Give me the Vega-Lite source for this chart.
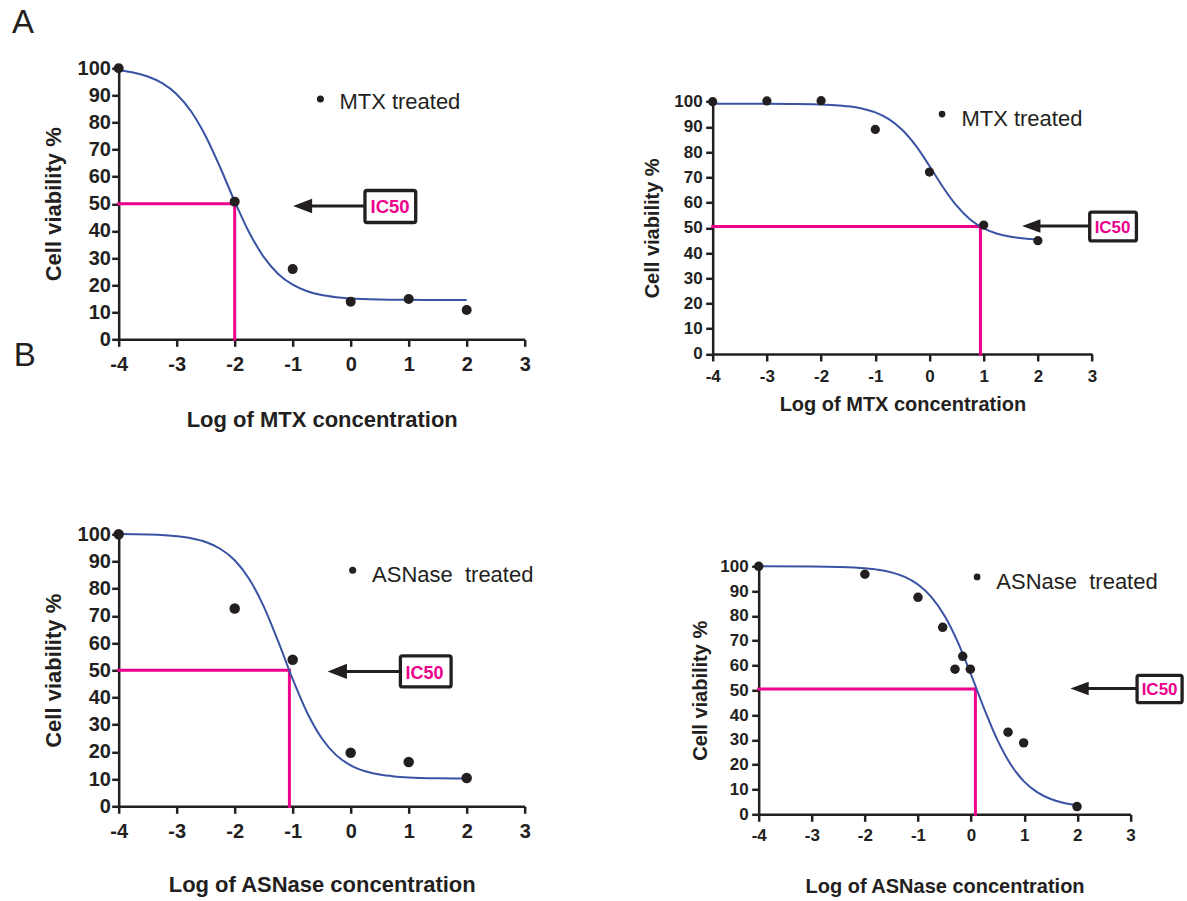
{
  "$schema": "https://vega.github.io/schema/vega-lite/v6.json",
  "padding": {"left": 11.7, "top": 7.3, "right": 0, "bottom": 0},
  "background": "white",
  "config": {
    "view": {"stroke": null},
    "font": "Liberation Sans",
    "axis": {
      "grid": false,
      "domainColor": "#231f20",
      "domainWidth": 2.5,
      "tickColor": "#231f20",
      "tickWidth": 2.5,
      "tickSize": 7,
      "labelFont": "Liberation Sans",
      "labelFontWeight": "bold",
      "labelColor": "#231f20",
      "labelFlush": false,
      "labelOverlap": false,
      "titleFont": "Liberation Sans",
      "titleFontWeight": "bold",
      "titleColor": "#231f20"
    }
  },
  "datasets": {
    "a1pts": [{"x": -4, "y": 100}, {"x": -2, "y": 50.8}, {"x": -1, "y": 25.9}, {"x": 0, "y": 13.9}, {"x": 1, "y": 14.9}, {"x": 2, "y": 10.8}],
    "a1fit": [{"x": -4, "y": 99.25}, {"x": -3.75, "y": 98.43}, {"x": -3.5, "y": 96.99}, {"x": -3.25, "y": 94.53}, {"x": -3, "y": 90.45}, {"x": -2.75, "y": 84.07}, {"x": -2.5, "y": 74.93}, {"x": -2.25, "y": 63.39}, {"x": -2, "y": 50.89}, {"x": -1.75, "y": 39.42}, {"x": -1.5, "y": 30.4}, {"x": -1.25, "y": 24.13}, {"x": -1, "y": 20.14}, {"x": -0.75, "y": 17.73}, {"x": -0.5, "y": 16.32}, {"x": -0.25, "y": 15.52}, {"x": 0, "y": 15.07}, {"x": 0.5, "y": 14.68}, {"x": 1, "y": 14.56}, {"x": 1.5, "y": 14.52}, {"x": 2, "y": 14.51}],
    "a2pts": [{"x": -4, "y": 100}, {"x": -3, "y": 100.3}, {"x": -2, "y": 100.4}, {"x": -1, "y": 89.0}, {"x": 0, "y": 72.1}, {"x": 1, "y": 51.1}, {"x": 2, "y": 44.9}],
    "a2fit": [{"x": -4, "y": 99.2}, {"x": -3.5, "y": 99.19}, {"x": -3, "y": 99.18}, {"x": -2.5, "y": 99.11}, {"x": -2, "y": 98.9}, {"x": -1.75, "y": 98.64}, {"x": -1.5, "y": 98.17}, {"x": -1.25, "y": 97.3}, {"x": -1, "y": 95.75}, {"x": -0.75, "y": 93.08}, {"x": -0.5, "y": 88.75}, {"x": -0.25, "y": 82.46}, {"x": 0, "y": 74.51}, {"x": 0.25, "y": 66.11}, {"x": 0.5, "y": 58.77}, {"x": 0.75, "y": 53.34}, {"x": 1, "y": 49.8}, {"x": 1.25, "y": 47.67}, {"x": 1.5, "y": 46.46}, {"x": 1.75, "y": 45.79}, {"x": 2, "y": 45.42}],
    "b1pts": [{"x": -4, "y": 100}, {"x": -2, "y": 72.7}, {"x": -1, "y": 53.9}, {"x": 0, "y": 19.7}, {"x": 1, "y": 16.3}, {"x": 2, "y": 10.4}],
    "b1fit": [{"x": -4, "y": 100.12}, {"x": -3.5, "y": 99.94}, {"x": -3, "y": 99.3}, {"x": -2.75, "y": 98.54}, {"x": -2.5, "y": 97.15}, {"x": -2.25, "y": 94.68}, {"x": -2, "y": 90.45}, {"x": -1.75, "y": 83.58}, {"x": -1.5, "y": 73.51}, {"x": -1.25, "y": 60.61}, {"x": -1, "y": 46.75}, {"x": -0.75, "y": 34.37}, {"x": -0.5, "y": 25.03}, {"x": -0.25, "y": 18.82}, {"x": 0, "y": 15.04}, {"x": 0.25, "y": 12.87}, {"x": 0.5, "y": 11.65}, {"x": 0.75, "y": 10.99}, {"x": 1, "y": 10.62}, {"x": 1.5, "y": 10.32}, {"x": 2, "y": 10.24}],
    "b2pts": [{"x": -4, "y": 100}, {"x": -2, "y": 96.8}, {"x": -1, "y": 87.5}, {"x": -0.535, "y": 75.4}, {"x": -0.303, "y": 58.5}, {"x": -0.158, "y": 63.7}, {"x": -0.014, "y": 58.5}, {"x": 0.696, "y": 33.1}, {"x": 0.99, "y": 28.8}, {"x": 1.995, "y": 3.1}],
    "b2fit": [{"x": -4, "y": 99.99}, {"x": -3, "y": 99.92}, {"x": -2.5, "y": 99.75}, {"x": -2, "y": 99.21}, {"x": -1.75, "y": 98.61}, {"x": -1.5, "y": 97.56}, {"x": -1.25, "y": 95.74}, {"x": -1, "y": 92.67}, {"x": -0.75, "y": 87.69}, {"x": -0.5, "y": 80.07}, {"x": -0.25, "y": 69.42}, {"x": 0, "y": 56.29}, {"x": 0.25, "y": 42.38}, {"x": 0.5, "y": 29.81}, {"x": 0.75, "y": 20.0}, {"x": 1, "y": 13.18}, {"x": 1.25, "y": 8.81}, {"x": 1.5, "y": 6.15}, {"x": 1.75, "y": 4.59}, {"x": 2, "y": 3.69}]
  },
  "spacing": 93,
  "vconcat": [
    {
      "spacing": 112,
      "hconcat": [
        {
          "width": 406,
          "height": 271,
          "layer": [
            {"data": {"values": [{}]}, "mark": {"type": "rule", "color": "#ec008c", "strokeWidth": 3, "strokeCap": "square"},
             "encoding": {
               "x": {"datum": -4, "type": "quantitative", "scale": {"domain": [-4, 3], "nice": false, "zero": false},
                     "axis": {"title": "Log of MTX concentration", "values": [-4, -3, -2, -1, 0, 1, 2, 3], "labelOverlap": false, "labelExpr": "'' + datum.value", "labelFontSize": 20, "labelPadding": 8.3, "titleFontSize": 22, "titlePadding": 35}},
               "x2": {"datum": -2},
               "y": {"datum": 50, "type": "quantitative", "scale": {"domain": [0, 100], "nice": false, "zero": false},
                     "axis": {"title": "Cell viability %", "values": [0, 10, 20, 30, 40, 50, 60, 70, 80, 90, 100], "tickCount": 11, "labelOverlap": false, "labelFontSize": 20, "labelPadding": 1.3, "titleFontSize": 22, "titlePadding": 11.7}}
             }},
            {"data": {"values": [{}]}, "mark": {"type": "rule", "color": "#ec008c", "strokeWidth": 3, "strokeCap": "square"},
             "encoding": {"x": {"datum": -2, "type": "quantitative"}, "y": {"datum": 0, "type": "quantitative"}, "y2": {"datum": 50}}},
            {"data": {"name": "a1fit"}, "mark": {"type": "line", "color": "#3953a4", "strokeWidth": 2, "interpolate": "monotone"},
             "encoding": {
               "x": {"field": "x", "type": "quantitative", "scale": {"domain": [-4, 3], "nice": false, "zero": false},
                     "axis": {"title": "Log of MTX concentration", "values": [-4, -3, -2, -1, 0, 1, 2, 3], "labelOverlap": false, "labelExpr": "'' + datum.value", "labelFontSize": 20, "labelPadding": 8.3, "titleFontSize": 22, "titlePadding": 35}},
               "y": {"field": "y", "type": "quantitative", "scale": {"domain": [0, 100], "nice": false, "zero": false},
                     "axis": {"title": "Cell viability %", "values": [0, 10, 20, 30, 40, 50, 60, 70, 80, 90, 100], "tickCount": 11, "labelOverlap": false, "labelFontSize": 20, "labelPadding": 1.3, "titleFontSize": 22, "titlePadding": 11.7}}
             }},
            {"data": {"name": "a1pts"}, "mark": {"type": "circle", "size": 100, "color": "#231f20", "opacity": 1},
             "encoding": {"x": {"field": "x", "type": "quantitative"}, "y": {"field": "y", "type": "quantitative"}}},
            {"data": {"values": [{}]}, "mark": {"type": "circle", "size": 50, "color": "#231f20", "opacity": 1},
             "encoding": {"x": {"datum": -0.522, "type": "quantitative"}, "y": {"datum": 88.7, "type": "quantitative"}}},
            {"data": {"values": [{}]}, "mark": {"type": "text", "text": "MTX treated", "fontSize": 22, "color": "#231f20", "align": "left", "baseline": "alphabetic"},
             "encoding": {"x": {"datum": -0.195, "type": "quantitative"}, "y": {"datum": 84.9, "type": "quantitative"}}},
            {"data": {"values": [{}]}, "mark": {"type": "rule", "color": "#231f20", "strokeWidth": 3},
             "encoding": {"x": {"datum": -0.7, "type": "quantitative"}, "x2": {"datum": 0.25}, "y": {"datum": 49.2, "type": "quantitative"}}},
            {"data": {"values": [{}]}, "mark": {"type": "point", "shape": "M0,0L2,-0.76L2,0.76Z", "size": 361, "filled": true, "color": "#231f20", "opacity": 1, "strokeWidth": 0},
             "encoding": {"x": {"datum": -0.993, "type": "quantitative"}, "y": {"datum": 49.2, "type": "quantitative"}}},
            {"data": {"values": [{}]}, "mark": {"type": "rect", "fill": "white", "stroke": "#231f20", "strokeWidth": 3.3, "cornerRadius": 2},
             "encoding": {"x": {"datum": 0.246, "type": "quantitative"}, "x2": {"datum": 1.121}, "y": {"datum": 54.9, "type": "quantitative"}, "y2": {"datum": 43.1}}},
            {"data": {"values": [{}]}, "mark": {"type": "text", "text": "IC50", "fontSize": 18.5, "fontWeight": "bold", "color": "#ec008c", "align": "center", "baseline": "alphabetic"},
             "encoding": {"x": {"datum": 0.679, "type": "quantitative"}, "y": {"datum": 46.5, "type": "quantitative"}}},
            {"data": {"values": [{}]}, "mark": {"type": "text", "text": "A", "fontSize": 33, "color": "#231f20", "align": "left", "baseline": "alphabetic"},
             "encoding": {"x": {"datum": -5.838, "type": "quantitative"}, "y": {"datum": 112.9, "type": "quantitative"}}},
            {"data": {"values": [{}]}, "mark": {"type": "text", "text": "B", "fontSize": 33, "color": "#231f20", "align": "left", "baseline": "alphabetic"},
             "encoding": {"x": {"datum": -5.81, "type": "quantitative"}, "y": {"datum": -9.74, "type": "quantitative"}}}
          ]
        },
        {
          "width": 379.4,
          "height": 285.7,
          "layer": [
            {"data": {"values": [{}]}, "mark": {"type": "rule", "color": "#ec008c", "strokeWidth": 3, "strokeCap": "square"},
             "encoding": {
               "x": {"datum": -4, "type": "quantitative", "scale": {"domain": [-4, 3], "nice": false, "zero": false},
                     "axis": {"title": "Log of MTX concentration", "values": [-4, -3, -2, -1, 0, 1, 2, 3], "labelOverlap": false, "labelExpr": "'' + datum.value", "labelFontSize": 17, "labelPadding": 7.7, "titleFontSize": 20, "titlePadding": 9.5}},
               "x2": {"datum": 0.94},
               "y": {"datum": 50.5, "type": "quantitative", "scale": {"domain": [0, 100], "range": [285.7, 33.4], "nice": false, "zero": false},
                     "axis": {"title": "Cell viability %", "values": [0, 10, 20, 30, 40, 50, 60, 70, 80, 90, 100], "tickCount": 11, "labelOverlap": false, "labelFontSize": 17, "labelPadding": 3.5, "titleFontSize": 20, "titlePadding": 11}}
             }},
            {"data": {"values": [{}]}, "mark": {"type": "rule", "color": "#ec008c", "strokeWidth": 3, "strokeCap": "square"},
             "encoding": {"x": {"datum": 0.94, "type": "quantitative"}, "y": {"datum": 0, "type": "quantitative"}, "y2": {"datum": 50.5}}},
            {"data": {"name": "a2fit"}, "mark": {"type": "line", "color": "#3953a4", "strokeWidth": 2, "interpolate": "monotone"},
             "encoding": {
               "x": {"field": "x", "type": "quantitative", "scale": {"domain": [-4, 3], "nice": false, "zero": false},
                     "axis": {"title": "Log of MTX concentration", "values": [-4, -3, -2, -1, 0, 1, 2, 3], "labelOverlap": false, "labelExpr": "'' + datum.value", "labelFontSize": 17, "labelPadding": 7.7, "titleFontSize": 20, "titlePadding": 9.5}},
               "y": {"field": "y", "type": "quantitative", "scale": {"domain": [0, 100], "range": [285.7, 33.4], "nice": false, "zero": false},
                     "axis": {"title": "Cell viability %", "values": [0, 10, 20, 30, 40, 50, 60, 70, 80, 90, 100], "tickCount": 11, "labelOverlap": false, "labelFontSize": 17, "labelPadding": 3.5, "titleFontSize": 20, "titlePadding": 11}}
             }},
            {"data": {"name": "a2pts"}, "mark": {"type": "circle", "size": 85, "color": "#231f20", "opacity": 1},
             "encoding": {"x": {"field": "x", "type": "quantitative"}, "y": {"field": "y", "type": "quantitative"}}},
            {"data": {"values": [{}]}, "mark": {"type": "circle", "size": 45, "color": "#231f20", "opacity": 1},
             "encoding": {"x": {"datum": 0.232, "type": "quantitative"}, "y": {"datum": 95.1, "type": "quantitative"}}},
            {"data": {"values": [{}]}, "mark": {"type": "text", "text": "MTX treated", "fontSize": 22, "color": "#231f20", "align": "left", "baseline": "alphabetic"},
             "encoding": {"x": {"datum": 0.589, "type": "quantitative"}, "y": {"datum": 90.5, "type": "quantitative"}}},
            {"data": {"values": [{}]}, "mark": {"type": "rule", "color": "#231f20", "strokeWidth": 3},
             "encoding": {"x": {"datum": 1.99, "type": "quantitative"}, "x2": {"datum": 2.96}, "y": {"datum": 50.7, "type": "quantitative"}}},
            {"data": {"values": [{}]}, "mark": {"type": "point", "shape": "M0,0L2,-0.74L2,0.74Z", "size": 335, "filled": true, "color": "#231f20", "opacity": 1, "strokeWidth": 0},
             "encoding": {"x": {"datum": 1.709, "type": "quantitative"}, "y": {"datum": 50.7, "type": "quantitative"}}},
            {"data": {"values": [{}]}, "mark": {"type": "rect", "fill": "white", "stroke": "#231f20", "strokeWidth": 3.3, "cornerRadius": 2},
             "encoding": {"x": {"datum": 2.956, "type": "quantitative"}, "x2": {"datum": 3.818}, "y": {"datum": 56.2, "type": "quantitative"}, "y2": {"datum": 44.8}}},
            {"data": {"values": [{}]}, "mark": {"type": "text", "text": "IC50", "fontSize": 17, "fontWeight": "bold", "color": "#ec008c", "align": "center", "baseline": "alphabetic"},
             "encoding": {"x": {"datum": 3.378, "type": "quantitative"}, "y": {"datum": 48.1, "type": "quantitative"}}}
          ]
        }
      ]
    },
    {
      "spacing": 157,
      "hconcat": [
        {
          "width": 406,
          "height": 272,
          "layer": [
            {"data": {"values": [{}]}, "mark": {"type": "rule", "color": "#ec008c", "strokeWidth": 3, "strokeCap": "square"},
             "encoding": {
               "x": {"datum": -4, "type": "quantitative", "scale": {"domain": [-4, 3], "nice": false, "zero": false},
                     "axis": {"title": "Log of ASNase concentration", "values": [-4, -3, -2, -1, 0, 1, 2, 3], "labelOverlap": false, "labelExpr": "'' + datum.value", "labelFontSize": 20, "labelPadding": 8.3, "titleFontSize": 22, "titlePadding": 33}},
               "x2": {"datum": -1.057},
               "y": {"datum": 50, "type": "quantitative", "scale": {"domain": [0, 100], "nice": false, "zero": false},
                     "axis": {"title": "Cell viability %", "values": [0, 10, 20, 30, 40, 50, 60, 70, 80, 90, 100], "tickCount": 11, "labelOverlap": false, "labelFontSize": 20, "labelPadding": 1.3, "titleFontSize": 22, "titlePadding": 11.7}}
             }},
            {"data": {"values": [{}]}, "mark": {"type": "rule", "color": "#ec008c", "strokeWidth": 3, "strokeCap": "square"},
             "encoding": {"x": {"datum": -1.057, "type": "quantitative"}, "y": {"datum": 0, "type": "quantitative"}, "y2": {"datum": 50}}},
            {"data": {"name": "b1fit"}, "mark": {"type": "line", "color": "#3953a4", "strokeWidth": 2, "interpolate": "monotone"},
             "encoding": {
               "x": {"field": "x", "type": "quantitative", "scale": {"domain": [-4, 3], "nice": false, "zero": false},
                     "axis": {"title": "Log of ASNase concentration", "values": [-4, -3, -2, -1, 0, 1, 2, 3], "labelOverlap": false, "labelExpr": "'' + datum.value", "labelFontSize": 20, "labelPadding": 8.3, "titleFontSize": 22, "titlePadding": 33}},
               "y": {"field": "y", "type": "quantitative", "scale": {"domain": [0, 100], "nice": false, "zero": false},
                     "axis": {"title": "Cell viability %", "values": [0, 10, 20, 30, 40, 50, 60, 70, 80, 90, 100], "tickCount": 11, "labelOverlap": false, "labelFontSize": 20, "labelPadding": 1.3, "titleFontSize": 22, "titlePadding": 11.7}}
             }},
            {"data": {"name": "b1pts"}, "mark": {"type": "circle", "size": 110, "color": "#231f20", "opacity": 1},
             "encoding": {"x": {"field": "x", "type": "quantitative"}, "y": {"field": "y", "type": "quantitative"}}},
            {"data": {"values": [{}]}, "mark": {"type": "circle", "size": 50, "color": "#231f20", "opacity": 1},
             "encoding": {"x": {"datum": 0.034, "type": "quantitative"}, "y": {"datum": 86.8, "type": "quantitative"}}},
            {"data": {"values": [{}]}, "mark": {"type": "text", "text": "ASNase \u00a0treated", "fontSize": 22, "color": "#231f20", "align": "left", "baseline": "alphabetic"},
             "encoding": {"x": {"datum": 0.369, "type": "quantitative"}, "y": {"datum": 82.5, "type": "quantitative"}}},
            {"data": {"values": [{}]}, "mark": {"type": "rule", "color": "#231f20", "strokeWidth": 3},
             "encoding": {"x": {"datum": -0.1, "type": "quantitative"}, "x2": {"datum": 0.86}, "y": {"datum": 49.6, "type": "quantitative"}}},
            {"data": {"values": [{}]}, "mark": {"type": "point", "shape": "M0,0L2,-0.78L2,0.78Z", "size": 372, "filled": true, "color": "#231f20", "opacity": 1, "strokeWidth": 0},
             "encoding": {"x": {"datum": -0.397, "type": "quantitative"}, "y": {"datum": 49.6, "type": "quantitative"}}},
            {"data": {"values": [{}]}, "mark": {"type": "rect", "fill": "white", "stroke": "#231f20", "strokeWidth": 3.3, "cornerRadius": 2},
             "encoding": {"x": {"datum": 0.857, "type": "quantitative"}, "x2": {"datum": 1.731}, "y": {"datum": 55.3, "type": "quantitative"}, "y2": {"datum": 43.9}}},
            {"data": {"values": [{}]}, "mark": {"type": "text", "text": "IC50", "fontSize": 18, "fontWeight": "bold", "color": "#ec008c", "align": "center", "baseline": "alphabetic"},
             "encoding": {"x": {"datum": 1.274, "type": "quantitative"}, "y": {"datum": 46.9, "type": "quantitative"}}}
          ]
        },
        {
          "width": 371.7,
          "height": 280,
          "layer": [
            {"data": {"values": [{}]}, "mark": {"type": "rule", "color": "#ec008c", "strokeWidth": 3, "strokeCap": "square"},
             "encoding": {
               "x": {"datum": -4, "type": "quantitative", "scale": {"domain": [-4, 3], "nice": false, "zero": false},
                     "axis": {"title": "Log of ASNase concentration", "values": [-4, -3, -2, -1, 0, 1, 2, 3], "labelOverlap": false, "labelExpr": "'' + datum.value", "labelFontSize": 17, "labelPadding": 6.7, "titleFontSize": 20, "titlePadding": 32.7}},
               "x2": {"datum": 0.081},
               "y": {"datum": 50.5, "type": "quantitative", "scale": {"domain": [0, 100], "range": [280, 32], "nice": false, "zero": false},
                     "axis": {"title": "Cell viability %", "values": [0, 10, 20, 30, 40, 50, 60, 70, 80, 90, 100], "tickCount": 11, "labelOverlap": false, "labelFontSize": 17, "labelPadding": 3.5, "titleFontSize": 20, "titlePadding": 9}}
             }},
            {"data": {"values": [{}]}, "mark": {"type": "rule", "color": "#ec008c", "strokeWidth": 3, "strokeCap": "square"},
             "encoding": {"x": {"datum": 0.081, "type": "quantitative"}, "y": {"datum": 0, "type": "quantitative"}, "y2": {"datum": 50.5}}},
            {"data": {"name": "b2fit"}, "mark": {"type": "line", "color": "#3953a4", "strokeWidth": 2, "interpolate": "monotone"},
             "encoding": {
               "x": {"field": "x", "type": "quantitative", "scale": {"domain": [-4, 3], "nice": false, "zero": false},
                     "axis": {"title": "Log of ASNase concentration", "values": [-4, -3, -2, -1, 0, 1, 2, 3], "labelOverlap": false, "labelExpr": "'' + datum.value", "labelFontSize": 17, "labelPadding": 6.7, "titleFontSize": 20, "titlePadding": 32.7}},
               "y": {"field": "y", "type": "quantitative", "scale": {"domain": [0, 100], "range": [280, 32], "nice": false, "zero": false},
                     "axis": {"title": "Cell viability %", "values": [0, 10, 20, 30, 40, 50, 60, 70, 80, 90, 100], "tickCount": 11, "labelOverlap": false, "labelFontSize": 17, "labelPadding": 3.5, "titleFontSize": 20, "titlePadding": 9}}
             }},
            {"data": {"name": "b2pts"}, "mark": {"type": "circle", "size": 90, "color": "#231f20", "opacity": 1},
             "encoding": {"x": {"field": "x", "type": "quantitative"}, "y": {"field": "y", "type": "quantitative"}}},
            {"data": {"values": [{}]}, "mark": {"type": "circle", "size": 45, "color": "#231f20", "opacity": 1},
             "encoding": {"x": {"datum": 0.113, "type": "quantitative"}, "y": {"datum": 95.7, "type": "quantitative"}}},
            {"data": {"values": [{}]}, "mark": {"type": "text", "text": "ASNase \u00a0treated", "fontSize": 22, "color": "#231f20", "align": "left", "baseline": "alphabetic"},
             "encoding": {"x": {"datum": 0.476, "type": "quantitative"}, "y": {"datum": 91.0, "type": "quantitative"}}},
            {"data": {"values": [{}]}, "mark": {"type": "rule", "color": "#231f20", "strokeWidth": 3},
             "encoding": {"x": {"datum": 2.15, "type": "quantitative"}, "x2": {"datum": 3.13}, "y": {"datum": 50.7, "type": "quantitative"}}},
            {"data": {"values": [{}]}, "mark": {"type": "point", "shape": "M0,0L2,-0.74L2,0.74Z", "size": 335, "filled": true, "color": "#231f20", "opacity": 1, "strokeWidth": 0},
             "encoding": {"x": {"datum": 1.87, "type": "quantitative"}, "y": {"datum": 50.7, "type": "quantitative"}}},
            {"data": {"values": [{}]}, "mark": {"type": "rect", "fill": "white", "stroke": "#231f20", "strokeWidth": 3.3, "cornerRadius": 2},
             "encoding": {"x": {"datum": 3.126, "type": "quantitative"}, "x2": {"datum": 3.974}, "y": {"datum": 56.0, "type": "quantitative"}, "y2": {"datum": 45.0}}},
            {"data": {"values": [{}]}, "mark": {"type": "text", "text": "IC50", "fontSize": 17, "fontWeight": "bold", "color": "#ec008c", "align": "center", "baseline": "alphabetic"},
             "encoding": {"x": {"datum": 3.55, "type": "quantitative"}, "y": {"datum": 48.0, "type": "quantitative"}}}
          ]
        }
      ]
    }
  ]
}
